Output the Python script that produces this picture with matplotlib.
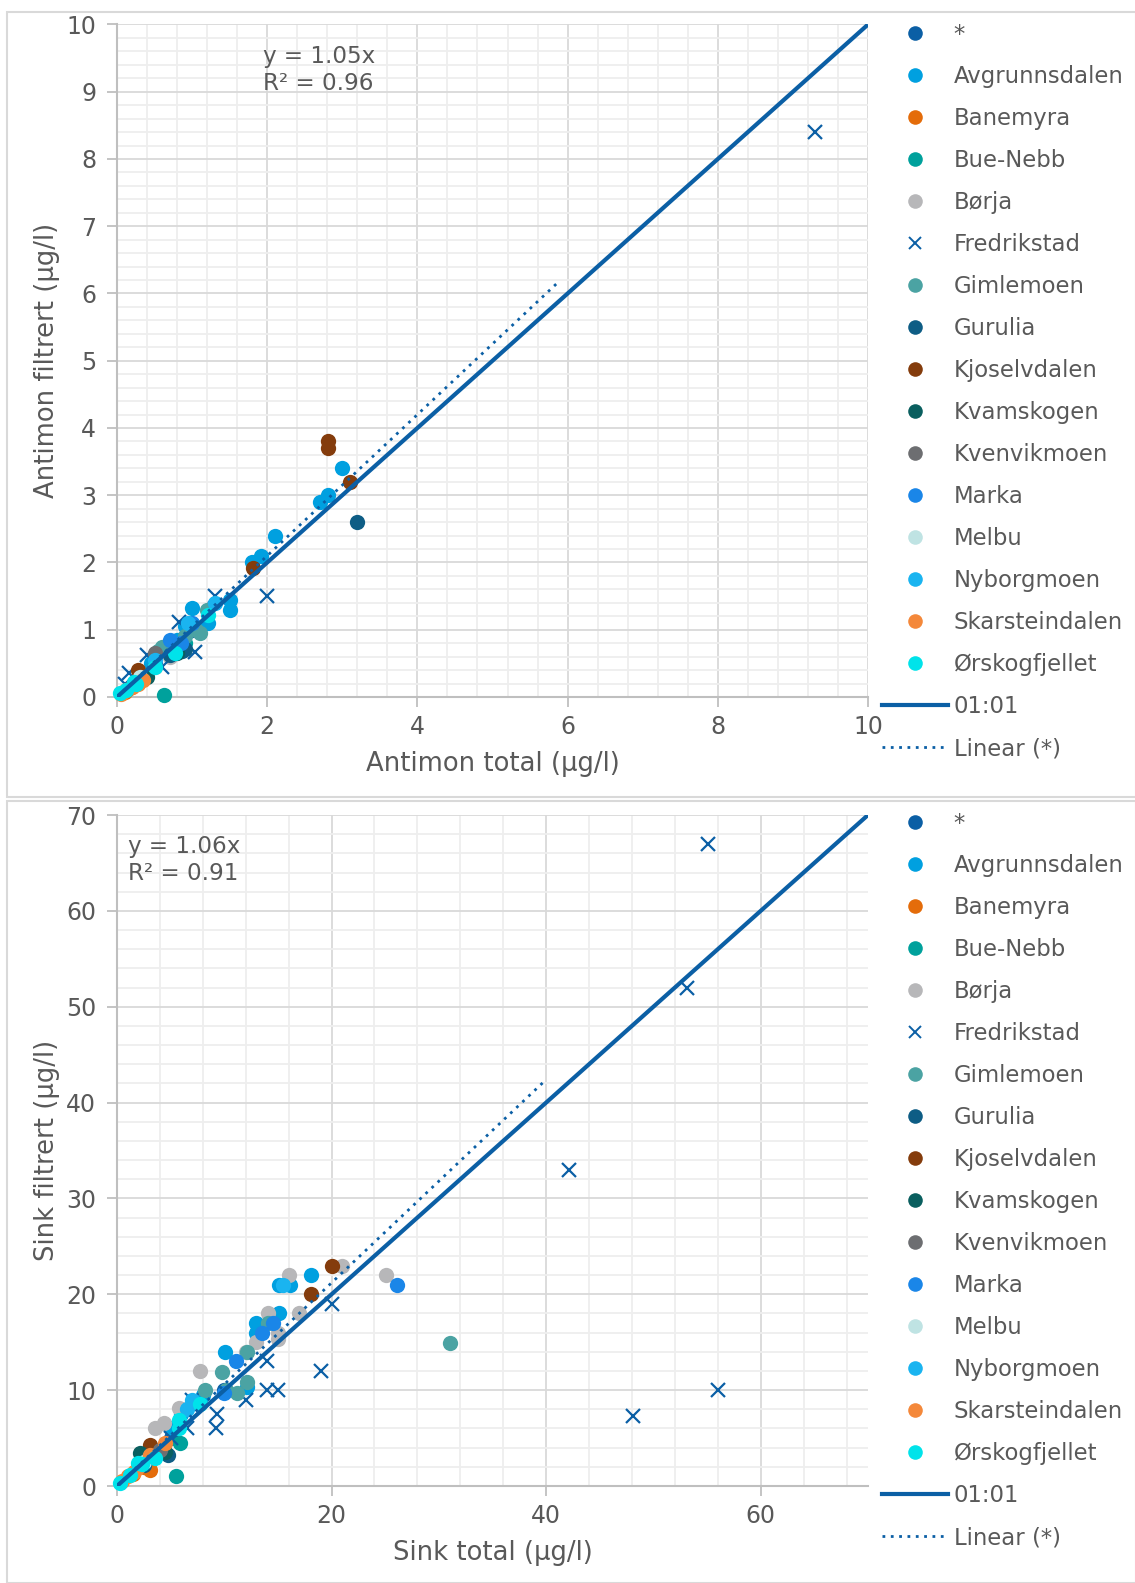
import matplotlib
matplotlib.use("Agg")
import matplotlib.pyplot as plt
from matplotlib.lines import Line2D
from matplotlib.patches import Rectangle
from matplotlib.ticker import MultipleLocator

# -------------------------
# Data
# -------------------------
SITES = ["*", "Avgrunnsdalen", "Banemyra", "Bue-Nebb", "Børja", "Fredrikstad",
         "Gimlemoen", "Gurulia", "Kjoselvdalen", "Kvamskogen", "Kvenvikmoen",
         "Marka", "Melbu", "Nyborgmoen", "Skarsteindalen", "Ørskogfjellet"]
COLORS = ["#0b5fa5", "#00a0e0", "#e46c0a", "#00a19c", "#b7b7b9", "#0b5fa5",
          "#4ba3a3", "#0e5d85", "#843c0c", "#0a5f5f", "#6d6e71",
          "#1a86e8", "#bfe3e3", "#1ab4f0", "#f4883a", "#00e3ea"]

# Antimon (total, filtrert), one list per site in SITES order
SB_TOTAL = [
    [0.5, 1.0],
    [3.0, 2.81, 2.7, 2.1, 1.92, 1.8, 1.5, 1.5, 1.0, 1.21, 0.9, 0.8, 0.6, 0.45],
    [0.1, 0.2, 0.3, 0.15],
    [0.62, 0.9, 0.75],
    [0.3, 0.5, 0.7],
    [9.3, 2.0, 1.3, 0.83, 1.04, 0.4, 0.16, 0.11, 0.6],
    [1.1, 1.2, 0.97, 0.6, 0.55, 1.05, 0.9, 0.8],
    [3.2, 0.87, 0.7, 0.9],
    [2.81, 2.81, 3.1, 1.81, 0.28],
    [0.4, 0.8],
    [0.77, 0.5],
    [0.7, 1.0, 0.85],
    [0.3],
    [1.3, 0.95, 0.5],
    [0.05, 0.12, 0.2, 0.35, 0.28],
    [1.21, 0.77, 0.5, 0.22, 0.04, 0.25, 0.12],
]
SB_FILT = [
    [0.5, 1.0],
    [3.4, 3.0, 2.9, 2.4, 2.1, 2.0, 1.44, 1.3, 1.32, 1.1, 1.05, 0.85, 0.7, 0.5],
    [0.08, 0.15, 0.25, 0.12],
    [0.03, 0.8, 0.7],
    [0.25, 0.45, 0.6],
    [8.4, 1.5, 1.5, 1.12, 0.67, 0.63, 0.35, 0.2, 0.45],
    [0.95, 1.3, 1.04, 0.75, 0.68, 1.0, 0.9, 0.75],
    [2.6, 0.68, 0.62, 0.72],
    [3.81, 3.7, 3.2, 1.92, 0.4],
    [0.3, 0.65],
    [0.77, 0.65],
    [0.85, 1.1, 0.8],
    [0.3],
    [1.4, 1.1, 0.55],
    [0.05, 0.1, 0.15, 0.25, 0.2],
    [1.22, 0.65, 0.45, 0.23, 0.06, 0.2, 0.1],
]

# Sink (total, filtrert)
ZN_TOTAL = [
    [10, 5],
    [18.1, 15.1, 16.1, 15.1, 13, 13, 10.1, 12.1, 8, 6, 5],
    [3.1, 1.5, 2.5],
    [5.5, 5.9],
    [21, 16, 17, 14.1, 15, 15, 25.1, 7.7, 5.8, 3.5, 4.4, 6, 13, 12],
    [55.1, 53.1, 42.1, 48.1, 56, 20, 19, 14, 15, 14, 12, 9.3, 9.2, 7, 6.5, 5],
    [31, 14.1, 12.1, 9.8, 12.1, 11.2, 8.2, 10.2],
    [4.8, 2.5],
    [20, 18.1, 3.1],
    [2.1, 4.5],
    [3, 4],
    [26.1, 11.1, 10, 13.5, 14.5],
    [2.5],
    [15.5, 7, 6.5],
    [4.5, 3.1, 1.6, 1, 2, 0.5],
    [7.7, 5.8, 5.8, 3.5, 2.0, 0.3, 1.2, 2.3],
]
ZN_FILT = [
    [10, 5],
    [22, 21, 21, 18, 17, 16, 14, 10.3, 9.5, 7.5, 6],
    [1.7, 1.2, 2.0],
    [1.0, 4.5],
    [23, 22, 18, 18, 16, 15.3, 22, 12, 8.1, 6.1, 6.6, 8, 15, 14],
    [67, 52, 33, 7.3, 10, 19, 12, 10, 10, 13, 9, 7.5, 6, 9, 6, 5],
    [14.9, 17, 14, 11.9, 10.9, 9.7, 10, 10],
    [3.2, 2.2],
    [23, 20, 4.3],
    [3.4, 3.5],
    [3, 3.8],
    [21, 13, 9.7, 16, 17],
    [2.5],
    [21, 9, 8],
    [4.5, 3.2, 1.5, 1, 2, 0.5],
    [8.6, 6.9, 6.1, 2.9, 2.4, 0.3, 1.1, 2.3],
]

SB_SLOPE, SB_R2, SB_FIT_END = 1.05, 0.96, 5.9
ZN_SLOPE, ZN_R2, ZN_FIT_END = 1.06, 0.91, 40

LINE_BLUE = "#0b5fa5"
TEXT_GREY = "#595959"
plt.rcParams["font.family"] = ["DejaVu Sans"]

W, H = 1135, 1583
fig = plt.figure(figsize=(W / 100, H / 100), dpi=100)


def px_axes(left, top, right, bottom):
    return fig.add_axes([left / W, 1 - bottom / H, (right - left) / W, (bottom - top) / H])


def draw_panel(ax, xs, ys, lim, xmaj, xmin, ymaj, ymin, slope, r2, fit_end,
               xlabel, ylabel, eq_pos):
    for i, site in enumerate(SITES):
        if site == "Fredrikstad":
            ax.plot(xs[i], ys[i], ls="none", marker="x", ms=10, mew=1.6,
                    color=COLORS[i], zorder=3, clip_on=False)
        else:
            ax.plot(xs[i], ys[i], ls="none", marker="o", ms=11, mec="none",
                    color=COLORS[i], zorder=3, clip_on=False)
    ax.plot([0, lim], [0, lim], color=LINE_BLUE, lw=3, zorder=4, solid_capstyle="butt")
    ax.plot([0, fit_end], [0, slope * fit_end], color=LINE_BLUE, lw=2,
            ls=(0, (1, 2)), zorder=5)

    ax.set_xlim(0, lim)
    ax.set_ylim(0, lim)
    ax.xaxis.set_major_locator(MultipleLocator(xmaj))
    ax.xaxis.set_minor_locator(MultipleLocator(xmin))
    ax.yaxis.set_major_locator(MultipleLocator(ymaj))
    ax.yaxis.set_minor_locator(MultipleLocator(ymin))
    ax.grid(which="major", color="#d9d9d9", lw=1.3)
    ax.grid(which="minor", color="#eeeeee", lw=1.3)
    ax.set_axisbelow(True)
    for s in ["top", "right"]:
        ax.spines[s].set_visible(False)
    for s in ["left", "bottom"]:
        ax.spines[s].set_color("#bfbfbf")
        ax.spines[s].set_linewidth(1.5)
    ax.tick_params(which="major", length=7, width=1.3, color="#bfbfbf",
                   labelsize=17, labelcolor=TEXT_GREY)
    ax.tick_params(axis="x", pad=6)
    ax.tick_params(axis="y", pad=8)
    ax.tick_params(which="minor", length=0)

    ax.set_xlabel(xlabel, fontsize=18.6, color=TEXT_GREY)
    ax.set_ylabel(ylabel, fontsize=18.6, color=TEXT_GREY)
    ax.xaxis.set_label_coords(0.5, -0.08)
    ax.yaxis.set_label_coords(-0.076, 0.5)

    ax.text(eq_pos[0], eq_pos[1], f"y = {slope:.2f}x\nR² = {r2:.2f}",
            fontsize=16.6, color=TEXT_GREY, ha="left", va="top", linespacing=1.2)


def draw_legend(top_px):
    handles = []
    for i, site in enumerate(SITES):
        if site == "Fredrikstad":
            handles.append(Line2D([], [], ls="none", marker="x", ms=9, mew=1.4,
                                  color=COLORS[i]))
        else:
            handles.append(Line2D([], [], ls="none", marker="o", ms=10.5, mec="none",
                                  color=COLORS[i]))
    handles.append(Line2D([], [], color=LINE_BLUE, lw=3))
    handles.append(Line2D([], [], color=LINE_BLUE, lw=2, ls=(0, (1, 2))))
    labels = SITES + ["01:01", "Linear (*)"]
    fig.legend(handles, labels, loc="upper left",
               bbox_to_anchor=(882 / W, 1 - top_px / H), bbox_transform=fig.transFigure,
               frameon=False, fontsize=16.4, labelcolor=TEXT_GREY,
               handlelength=2.9, handletextpad=0.25, labelspacing=0.835,
               borderpad=0, borderaxespad=0)


# panel frames
for top, bot in [(12, 797), (801, 1583)]:
    fig.patches.append(Rectangle((7 / W, 1 - bot / H), (W - 6) / W, (bot - top) / H,
                                 transform=fig.transFigure, fill=False,
                                 ec="#d9d9d9", lw=1.5))

ax1 = px_axes(117, 24.5, 868, 697)
draw_panel(ax1, SB_TOTAL, SB_FILT, 10, 2, 0.4, 1, 0.2, SB_SLOPE, SB_R2, SB_FIT_END,
           "Antimon total (µg/l)", "Antimon filtrert (µg/l)", (1.95, 9.69))
draw_legend(23)

ax2 = px_axes(117, 815, 868, 1486)
draw_panel(ax2, ZN_TOTAL, ZN_FILT, 70, 20, 4, 10, 2, ZN_SLOPE, ZN_R2, ZN_FIT_END,
           "Sink total (µg/l)", "Sink filtrert (µg/l)", (1.0, 67.9))
draw_legend(812)

fig.savefig("out.png", dpi=100)
